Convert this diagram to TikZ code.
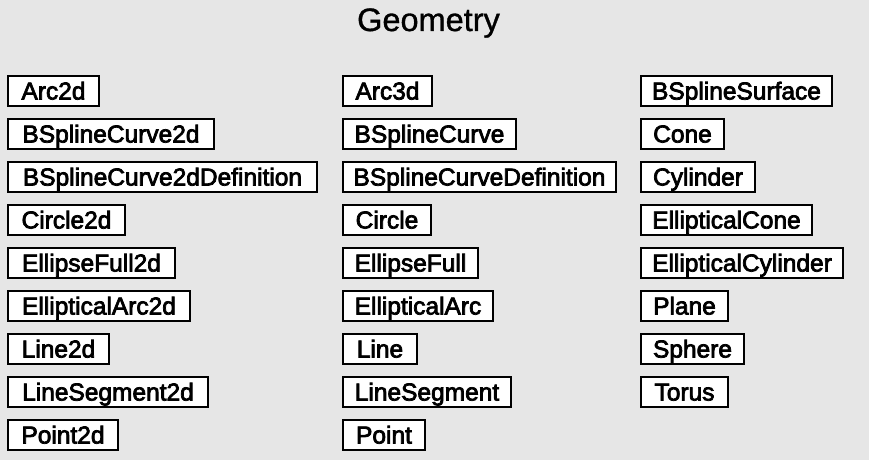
\documentclass[tikz,border=0pt]{standalone}
\usepackage{fontspec}
\setmainfont{Liberation Sans}
\newfontfamily\boxfont[FakeBold=3]{Liberation Sans}
\newfontfamily\titlefont[FakeBold=1]{Liberation Sans}
\definecolor{bgc}{RGB}{230,230,230}
\tikzset{
  gbox/.style={draw=black, fill=white, line width=2pt, anchor=west,
    minimum height=30pt, inner sep=0pt, text height=17pt, text depth=0pt,
    font=\boxfont\fontsize{24.5pt}{28pt}\selectfont},
  gtitle/.style={font=\titlefont\fontsize{32.5pt}{38pt}\selectfont, inner sep=0pt, anchor=base}
}
\newcommand{\gb}[5]{\node[gbox, minimum width=#4pt] (#1) at (#2,#3) {#5};}
\begin{document}
\begin{tikzpicture}[x=1pt,y=-1pt]
\fill[bgc] (0,0) rectangle (869,460);
\useasboundingbox (0,0) rectangle (869,460);
\node[gtitle] (title) at (428.5,31) {Geometry};
% column 1
\gb{arctwod}{7}{91}{91}{Arc2d}
\gb{bsctwod}{7}{134}{206}{BSplineCurve2d}
\gb{bsctwoddef}{7}{177}{309}{BSplineCurve2dDefinition}
\gb{circletwod}{7}{220}{117}{Circle2d}
\gb{ellfulltwod}{7}{263}{167}{EllipseFull2d}
\gb{ellarctwod}{7}{306}{182}{EllipticalArc2d}
\gb{linetwod}{7}{349}{101}{Line2d}
\gb{linesegtwod}{7}{392}{200}{LineSegment2d}
\gb{pointtwod}{7}{435}{110}{Point2d}
% column 2
\gb{arcthreed}{342}{91}{89}{Arc3d}
\gb{bsc}{342}{134}{173}{BSplineCurve}
\gb{bscdef}{342}{177}{273}{BSplineCurveDefinition}
\gb{circle}{342}{220}{88}{Circle}
\gb{ellfull}{342}{263}{135}{EllipseFull}
\gb{ellarc}{342}{306}{150}{EllipticalArc}
\gb{line}{342}{349}{74}{Line}
\gb{lineseg}{342}{392}{168}{LineSegment}
\gb{point}{342}{435}{82}{Point}
% column 3
\gb{bss}{640}{91}{191}{BSplineSurface}
\gb{cone}{640}{134}{83}{Cone}
\gb{cylinder}{640}{177}{114}{Cylinder}
\gb{ellcone}{640}{220}{171}{EllipticalCone}
\gb{ellcyl}{640}{263}{202}{EllipticalCylinder}
\gb{plane}{640}{306}{87}{Plane}
\gb{sphere}{640}{349}{103}{Sphere}
\gb{torus}{640}{392}{87}{Torus}
\end{tikzpicture}
\end{document}
